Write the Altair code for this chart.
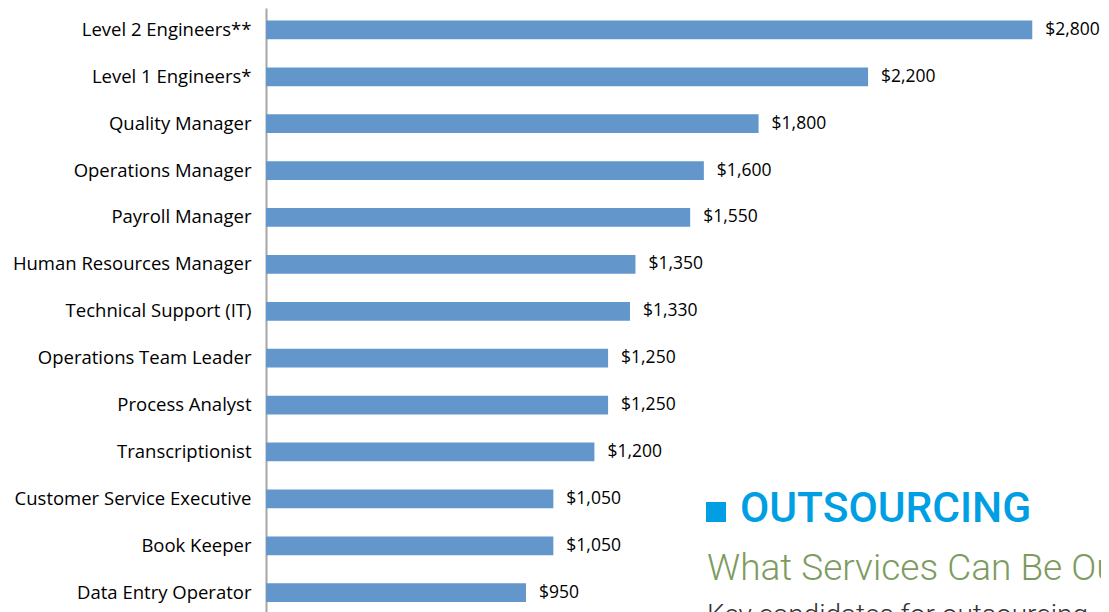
import altair as alt
import pandas as pd

roles = [
    "Level 2 Engineers**",
    "Level 1 Engineers*",
    "Quality Manager",
    "Operations Manager",
    "Payroll Manager\u00a0",
    "Human Resources Manager",
    "Technical Support (IT)",
    "Operations Team Leader",
    "Process Analyst",
    "Transcriptionist\u00a0",
    "Customer Service Executive",
    "Book Keeper",
    "Data Entry Operator",
]
salaries = [2800, 2200, 1800, 1600, 1550, 1350, 1330, 1250, 1250, 1200, 1050, 1050, 950]

heading = ["OUTSOURCING"]
subheading = ["What Services Can Be Outsourced?"]
intro = ["Key candidates for outsourcing"]

df = pd.DataFrame({"role": roles, "salary": salaries})

BAR = "#6397CB"
FONT = "Open Sans"

y_enc = alt.Y(
    "role:N",
    sort=roles,
    title=None,
    scale=alt.Scale(paddingInner=0.6, paddingOuter=0.3245, align=0.41),
    axis=alt.Axis(
        ticks=False,
        domainColor="#A6A6A6",
        domainWidth=2,
        labelFont=FONT,
        labelFontSize=18.5,
        labelColor="#000000",
        labelPadding=15,
        labelLimit=400,
    ),
)
x_enc = alt.X("salary:Q", scale=alt.Scale(domain=[0, 3000], nice=False), axis=None)

base = alt.Chart(df)
bars = base.mark_bar(color=BAR, cornerRadius=0).encode(y=y_enc, x=x_enc)
values = base.mark_text(
    align="left", baseline="middle", dx=13, font=FONT, fontSize=17.5, color="#000000"
).encode(y=y_enc, x=x_enc, text=alt.Text("salary:Q", format="$,.0f"))

square = alt.Chart(pd.DataFrame({"t": heading})).mark_square(
    color="#009FE3", size=400, opacity=1, filled=True
).encode(x=alt.value(450), y=alt.value(504))
head = alt.Chart(pd.DataFrame({"t": heading})).mark_text(
    align="left", baseline="alphabetic", font="Roboto", fontSize=42.5, fontWeight=500,
    color="#009FE3",
).encode(x=alt.value(474), y=alt.value(514), text="t:N")
sub = alt.Chart(pd.DataFrame({"t": subheading})).mark_text(
    align="left", baseline="alphabetic", font="Roboto", fontSize=37, fontWeight=300,
    color="#7D9B5F",
).encode(x=alt.value(441), y=alt.value(572), text="t:N")
intro_t = alt.Chart(pd.DataFrame({"t": intro})).mark_text(
    align="left", baseline="alphabetic", font="Roboto", fontSize=28, fontWeight=300,
    color="#333333",
).encode(x=alt.value(441), y=alt.value(616), text="t:N")

chart = (
    alt.layer(bars, values, square, head, sub, intro_t)
    .properties(
        width=821,
        height=612,
        autosize=alt.AutoSizeParams(type="none"),
        padding={"left": 258, "right": 14, "top": 0, "bottom": 0},
        background="white",
    )
    .configure_view(stroke=None)
)

chart.save("out.html", embed_options={"renderer": "svg", "actions": False})
